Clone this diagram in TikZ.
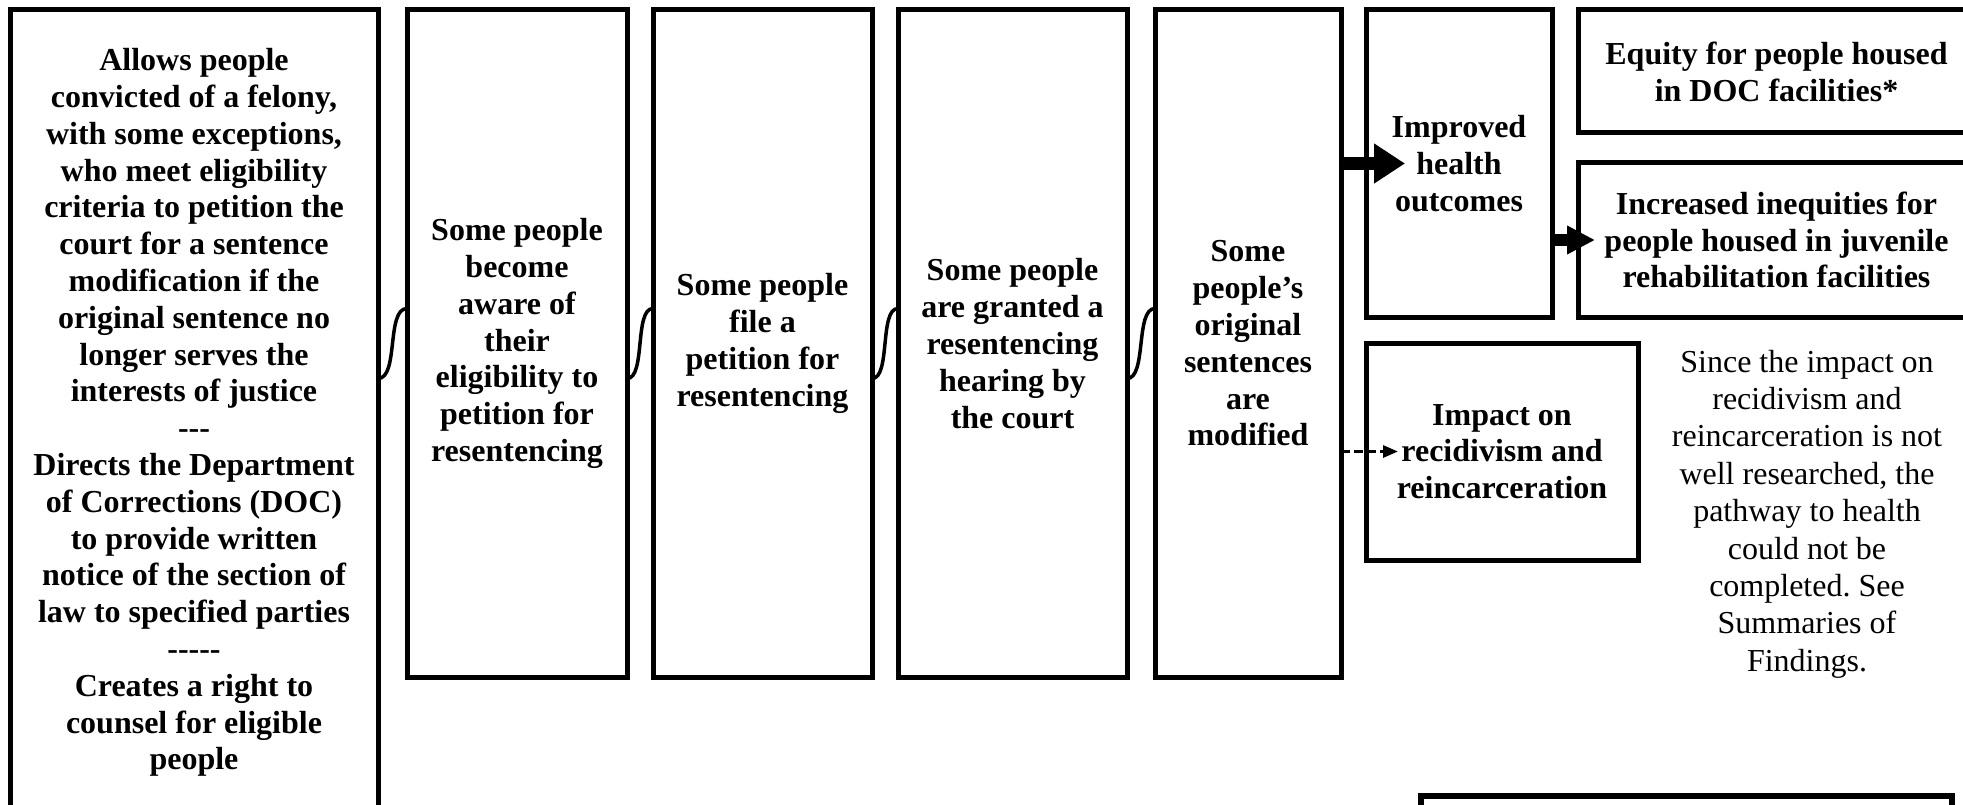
\documentclass[tikz,border=0pt]{standalone}
\usepackage{fontspec}
\setmainfont{Liberation Serif}
\usetikzlibrary{arrows.meta,calc,positioning}
\frenchspacing

\begin{document}
\begin{tikzpicture}[x=1pt,y=-1pt,
    stepbox/.style={draw,line width=5pt,align=center,inner sep=0pt,outer sep=0pt,anchor=north west,
                    font=\fontsize{32}{36.8}\selectfont\bfseries},
    wavy/.style={line width=3.5pt},
    bigarrow/.style={line width=13pt,-{Triangle[length=31pt,width=38pt]}},
    midarrow/.style={line width=12pt,-{Triangle[length=28pt,width=27pt]}},
    dasharrow/.style={line width=3pt,dash pattern=on 9pt off 4pt,-{Triangle[length=15pt,width=12pt]}}]

    \clip (0,0) rectangle (1963,805);

    % chain of steps
    \node(law) [stepbox,minimum width=368pt,minimum height=805pt] at (10,10)
        {Allows people\\ convicted of a felony,\\ with some exceptions,\\ who meet eligibility\\ criteria to petition the\\
         court for a sentence\\ modification if the\\ original sentence no\\ longer serves the\\ interests of justice\\ {-}{-}{-}\\
         Directs the Department\\ of Corrections (DOC)\\ to provide written\\ notice of the section of\\ law to specified parties\\ {-}{-}{-}{-}{-}\\
         Creates a right to\\ counsel for eligible\\ people};
    \node(aware) [stepbox,minimum width=220pt,minimum height=667pt,right=29pt of law.north east,anchor=north west]
        {Some people\\ become\\ aware of\\ their\\ eligibility to\\ petition for\\ resentencing};
    \node(petition) [stepbox,minimum width=219pt,minimum height=667pt,right=26pt of aware.north east,anchor=north west]
        {Some people\\ file a\\ petition for\\ resentencing};
    \node(hearing) [stepbox,minimum width=229pt,minimum height=667pt,right=26pt of petition.north east,anchor=north west]
        {Some people\\ are granted a\\ resentencing\\ hearing by\\ the court};
    \node(modified) [stepbox,minimum width=186pt,minimum height=667pt,right=28pt of hearing.north east,anchor=north west]
        {Some\\ people’s\\ original\\ sentences\\ are\\ modified};

    % outcomes
    \node(health) [stepbox,minimum width=186pt,minimum height=307pt,right=25pt of modified.north east,anchor=north west]
        {Improved\\ health\\ outcomes};
    \node(equity) [stepbox,minimum width=397pt,minimum height=123pt,right=26pt of health.north east,anchor=north west]
        {Equity for people housed\\ in DOC facilities*};
    \node(inequity) [stepbox,minimum width=397pt,minimum height=154pt,below=30pt of equity.south west,anchor=north west]
        {Increased inequities for\\ people housed in juvenile\\ rehabilitation facilities};
    \node(impact) [stepbox,minimum width=272pt,minimum height=217pt,below=26pt of health.south west,anchor=north west]
        {Impact on\\ recidivism and\\ reincarceration};
    \node(note) [align=center,font=\fontsize{32}{37.4}\selectfont] at (1807,514)
        {Since the impact on\\ recidivism and\\ reincarceration is not\\ well researched, the\\ pathway to health\\
         could not be\\ completed. See\\ Summaries of\\ Findings.};
    \node(footbox) [stepbox,line width=6pt,minimum width=531pt,minimum height=60pt] at (1421,796) {};

    % links
    \draw[wavy] ($(law.east |- aware.west)+(0,35)$) .. controls +(21,0) and +(-21,0) .. ($(aware.west)+(0,-35)$);
    \draw[wavy] ($(aware.east)+(0,35)$) .. controls +(19,0) and +(-19,0) .. ($(petition.west)+(0,-35)$);
    \draw[wavy] ($(petition.east)+(0,35)$) .. controls +(19,0) and +(-19,0) .. ($(hearing.west)+(0,-35)$);
    \draw[wavy] ($(hearing.east)+(0,35)$) .. controls +(20,0) and +(-20,0) .. ($(modified.west)+(0,-35)$);

    \draw[bigarrow] (modified.east |- health.west) -- ($(health.west)+(39,0)$);
    \draw[midarrow] (health.east |- inequity.west) -- ($(inequity.west)+(17,0)$);
    \draw[dasharrow] (modified.east |- impact.west) -- ($(impact.west)+(32,0)$);

\end{tikzpicture}
\end{document}
